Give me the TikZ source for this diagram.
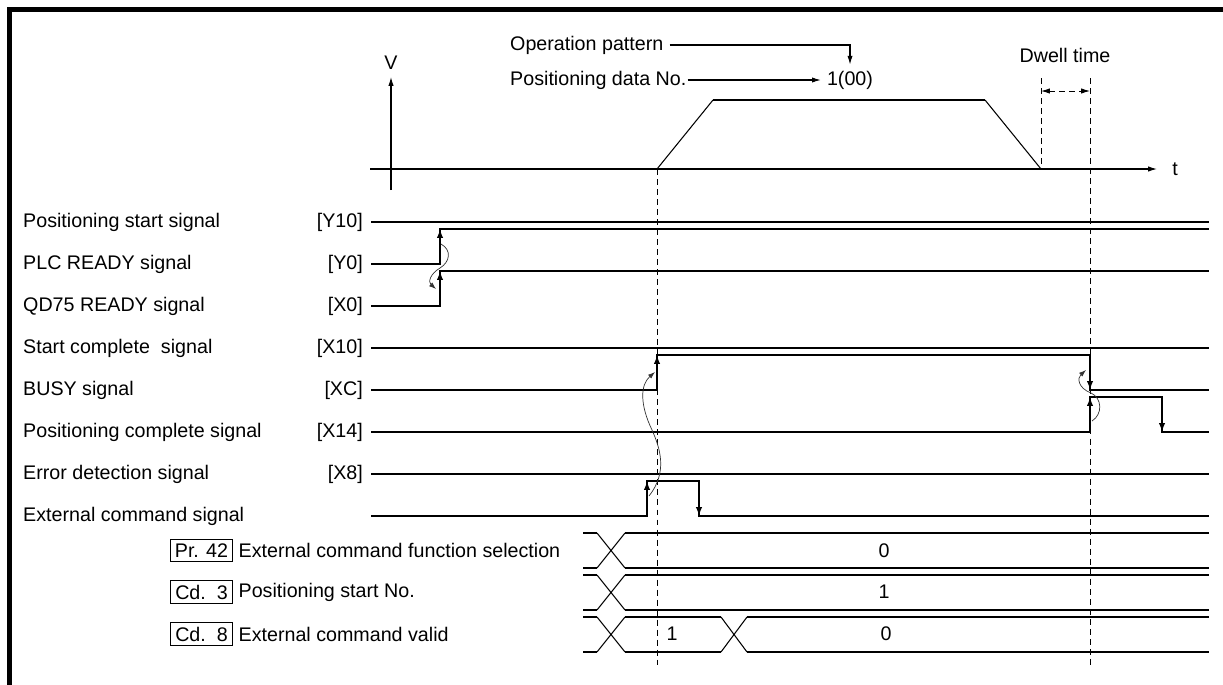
\documentclass[tikz,border=0pt]{standalone}
\usepackage{fontspec}
\setmainfont{Liberation Sans}
\usepackage{tikz}
\usetikzlibrary{arrows.meta, positioning}
\tikzset{
  wave/.style={line width=1.1pt},
  edgearrow/.style={line width=1.1pt, -{Latex[length=5pt,width=3.6pt]}},
  vaxis/.style={line width=0.6pt, -{Latex[length=5pt,width=3pt]}},
  guide/.style={line width=0.5pt, dash pattern=on 3.4pt off 2.3pt},
  cause/.style={line width=0.4pt, black!80, -{Latex[length=4pt,width=2.8pt]}}
}

\begin{document}
\begin{tikzpicture}[x=0.02cm, y=-0.02cm, font=\fontsize{11.2}{13}\selectfont,
        signame/.style={anchor=west},
        sigaddr/.style={anchor=east},
        parbox/.style={draw, line width=0.6pt, minimum width=35.7pt, minimum height=13pt, inner sep=1pt},
        parlabel/.style={inner sep=2.8pt},
        cross/.style={line width=0.6pt}
    ]
        \useasboundingbox (0,0) rectangle (1223,684);

        % Marco
        \draw[line width=2.5pt] (9.5,700) -- (9.5,9.5) -- (1230,9.5);

        % ---------------- VELOCIDAD ----------------
        \draw[vaxis] (391,190) -- (391,77);
        \node (vlabel) at (391,63) {V};
        \draw[vaxis] (370,169) -- (1157,169);
        \node (tlabel) at (1175,169) {t};

        % Patron de velocidad
        \draw[line width=0.6pt] (657,169) -- (713,100);
        \draw[wave] (713,100) -- (985,100);
        \draw[line width=0.6pt] (985,100) -- (1041,169);

        % Textos superiores
        \node[anchor=west] (oppat) at (504,45) {Operation pattern};
        \node[anchor=west, inner sep=0.5pt] (posno) at (509,80) {Positioning data No.};
        \node (dataval) at (850,80) {1(00)};
        \draw[vaxis] (oppat.east) -| (dataval.north);
        \draw[vaxis] (posno.east) -- (dataval.west);

        % Tiempo de espera
        \node (dwell) at (1065,55) {Dwell time};
        \draw[guide] (1041,78) -- (1041,169);
        \draw[guide] (1090,78) -- (1090,665);
        \draw[guide, {Latex[length=5pt,width=3pt]}-{Latex[length=5pt,width=3pt]}] (1041,91) -- (1090,91);
        \draw[guide] (657,169) -- (657,665);

        % ---------------- SENALES ----------------
        \node[signame] (y10name) at (17,222) {Positioning start signal};
        \node[sigaddr] (y10addr) at (369,222) {[Y10]};
        \node[signame] (y0name) at (17,264) {PLC READY signal};
        \node[sigaddr] (y0addr) at (369,264) {[Y0]};
        \node[signame] (x0name) at (17,306) {QD75 READY signal};
        \node[sigaddr] (x0addr) at (369,306) {[X0]};
        \node[signame] (x10name) at (17,348) {Start complete\ \ signal};
        \node[sigaddr] (x10addr) at (369,348) {[X10]};
        \node[signame] (xcname) at (17,390) {BUSY signal};
        \node[sigaddr] (xcaddr) at (369,390) {[XC]};
        \node[signame] (x14name) at (17,432) {Positioning complete signal};
        \node[sigaddr] (x14addr) at (369,432) {[X14]};
        \node[signame] (x8name) at (17,474) {Error detection signal};
        \node[sigaddr] (x8addr) at (369,474) {[X8]};
        \node[signame] (extname) at (17,516) {External command signal};

        % Formas de onda
        \draw[wave] (371,222) -- (1209,222);
        \draw[wave] (371,264) -| (440,229) -- (1209,229);
        \draw[wave] (371,306) -| (440,271) -- (1209,271);
        \draw[wave] (371,348) -- (1209,348);
        \draw[wave] (371,390) -| (657,355) -| (1090,390) -- (1209,390);
        \draw[wave] (371,432) -| (1090,397) -| (1162,432) -- (1209,432);
        \draw[wave] (371,474) -- (1209,474);
        \draw[wave] (371,516) -| (647,481) -| (699,516) -- (1209,516);

        % Flancos
        \draw[edgearrow] (440,264) -- (440,229);
        \draw[edgearrow] (440,306) -- (440,271);
        \draw[edgearrow] (657,390) -- (657,355);
        \draw[edgearrow] (1090,355) -- (1090,390);
        \draw[edgearrow] (1090,432) -- (1090,397);
        \draw[edgearrow] (1162,397) -- (1162,432);
        \draw[edgearrow] (647,516) -- (647,481);
        \draw[edgearrow] (699,481) -- (699,516);

        % Flechas de causa
        \draw[cause] (441,244) .. controls (452,250) and (450,262) .. (440,268) .. controls (430,274) and (428,282) .. (436,289);
        \draw[cause] (649,496) .. controls (668,472) and (660,448) .. (652,430) .. controls (640,405) and (640,385) .. (655,372);
        \draw[cause] (1092,421) .. controls (1103,414) and (1102,398) .. (1091,393) .. controls (1078,388) and (1077,378) .. (1086,370);

        % ---------------- PARAMETROS ----------------
        \node[parbox] (pr42) at (201.5,550.5) {Pr. 42};
        \node[parlabel, right=0pt of pr42] (pr42txt) {External command function selection};
        \node[parbox] (cd3) at (201.5,592) {Cd.\ \ 3};
        \node[parlabel, right=0pt of cd3] (cd3txt) {Positioning start No.};
        \node[parbox] (cd8) at (201.5,634) {Cd.\ \ 8};
        \node[parlabel, right=0pt of cd8] (cd8txt) {External command valid};

        % Pr. 42
        \draw[wave] (583,533) -- (597,533) (625,533) -- (1209,533);
        \draw[wave] (583,568) -- (597,568) (625,568) -- (1209,568);
        \draw[cross] (597,533) -- (625,568) (597,568) -- (625,533);
        \node (pr42val) at (884,550.5) {0};

        % Cd. 3
        \draw[wave] (583,575) -- (597,575) (625,575) -- (1209,575);
        \draw[wave] (583,610) -- (597,610) (625,610) -- (1209,610);
        \draw[cross] (597,575) -- (625,610) (597,610) -- (625,575);
        \node (cd3val) at (884,592) {1};

        % Cd. 8
        \draw[wave] (583,617) -- (597,617) (625,617) -- (721,617) (747,617) -- (1209,617);
        \draw[wave] (583,652) -- (597,652) (625,652) -- (721,652) (747,652) -- (1209,652);
        \draw[cross] (597,617) -- (625,652) (597,652) -- (625,617);
        \draw[cross] (721,617) -- (747,652) (721,652) -- (747,617);
        \node (cd8on) at (672,634) {1};
        \node (cd8off) at (886,634) {0};

    \end{tikzpicture}
\end{document}
